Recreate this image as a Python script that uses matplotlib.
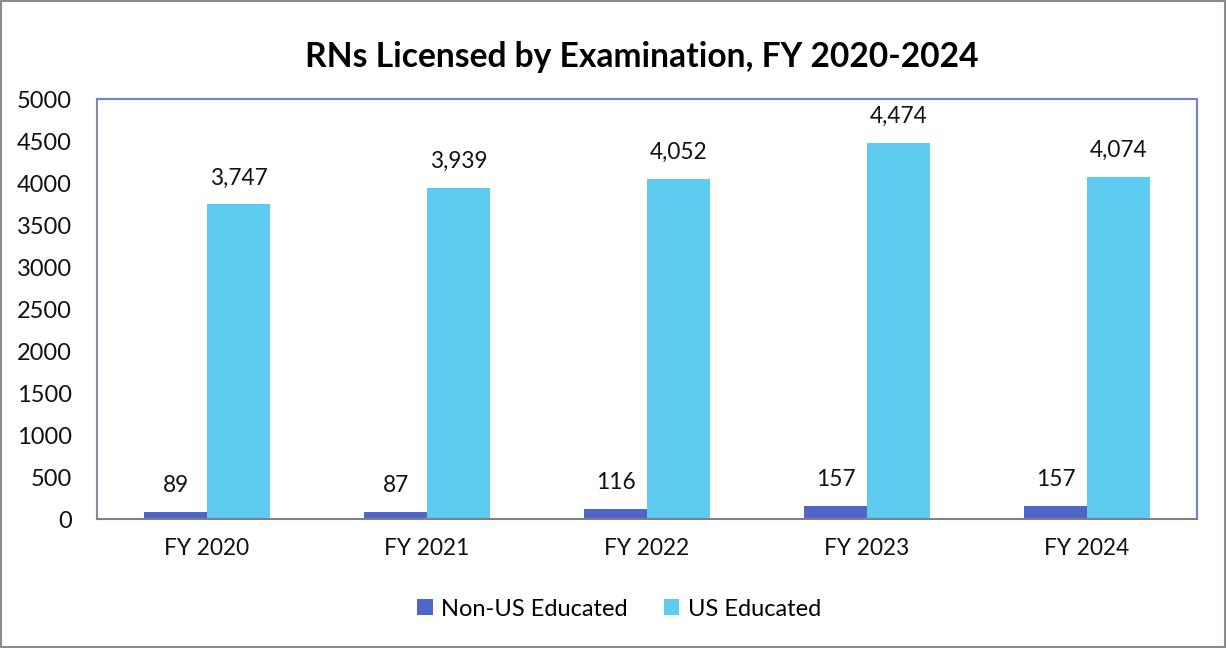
import matplotlib
matplotlib.use("Agg")
import matplotlib.pyplot as plt
import numpy as np
from matplotlib.patches import Rectangle

categories = ["FY 2020", "FY 2021", "FY 2022", "FY 2023", "FY 2024"]
non_us = [89, 87, 116, 157, 157]
us = [3747, 3939, 4052, 4474, 4074]
series_names = ["Non-US Educated", "US Educated"]
title = "RNs Licensed by Examination, FY 2020-2024"

plt.rcParams['font.family'] = ['Lato', 'DejaVu Sans']

fig = plt.figure(figsize=(12.27, 6.48), dpi=100)
W, H = 1227, 648
ax = fig.add_axes([97 / W, 1 - 519 / H, 1100 / W, 420 / H])

x = np.arange(len(categories))
bw = 63 / 220
b1 = ax.bar(x - bw / 2, non_us, bw, color="#4f65c8", label=series_names[0])
b2 = ax.bar(x + bw / 2, us, bw, color="#5ecbf1", label=series_names[1])

for bars, vals in ((b1, non_us), (b2, us)):
    for r, v in zip(bars, vals):
        ax.annotate(f"{v:,}", (r.get_x() + r.get_width() / 2, v),
                    xytext=(0, 19), textcoords="offset points",
                    ha="center", va="center", fontsize=16.3, color="#111111")

ax.set_xlim(-0.5, len(categories) - 0.5)
ax.set_ylim(0, 5000)
ax.set_yticks(np.arange(0, 5001, 500))
ax.set_xticks(x)
ax.set_xticklabels(categories)
ax.tick_params(axis="both", length=0, colors="#111111")
ax.tick_params(axis="y", pad=18, labelsize=17)
ax.tick_params(axis="x", pad=14, labelsize=16.3)

ax.spines["top"].set_color("#6f80d6")
ax.spines["right"].set_color("#6f80d6")
ax.spines["left"].set_color("#8a8a9a")
ax.spines["bottom"].set_color("#808080")
for s in ax.spines.values():
    s.set_linewidth(1.5)

fig.text(642 / W, 1 - 57 / H, title, ha="center", va="center",
         fontsize=24.2, fontweight="bold", color="#000000")

fig.legend(handles=[b1, b2], labels=series_names, loc="center",
           bbox_to_anchor=(619 / W, 1 - 609 / H), ncol=2, frameon=False,
           fontsize=17, handlelength=0.65, handleheight=0.65,
           handletextpad=0.35, columnspacing=1.55)

fig.add_artist(Rectangle((0.001, 0.001), 0.997, 0.997, transform=fig.transFigure,
                         fill=False, edgecolor="#8c8c8c", linewidth=1.5))

fig.savefig("out.png", dpi=100)
